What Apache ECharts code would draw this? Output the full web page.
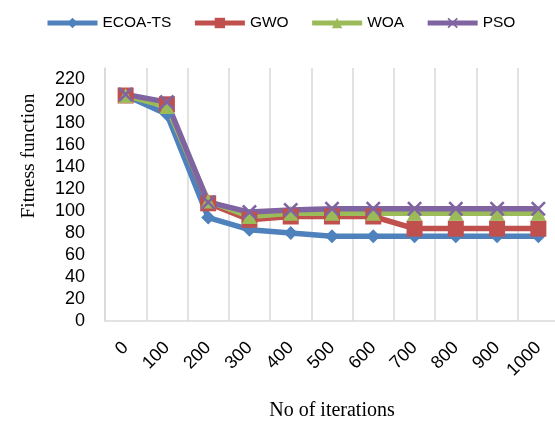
<!DOCTYPE html>
<html><head><meta charset="utf-8">
<script src="https://cdn.jsdelivr.net/npm/echarts@6/dist/echarts.min.js"></script>
<style>html,body{margin:0;padding:0;background:#fff}#c{width:555px;height:421px}</style>
</head><body><div id="c"></div>
<script>
const categories = ['0','100','200','300','400','500','600','700','800','900','1000'];
const ecoaTs = [205, 188, 94, 83, 80, 77, 77, 77, 77, 77, 77];
const gwo    = [205, 197, 107, 92, 95, 95, 95, 84, 84, 84, 84];
const woa    = [205, 195, 109, 95, 98, 98, 98, 98, 98, 98, 98];
const pso    = [206, 199, 108, 99, 101, 102, 102, 102, 102, 102, 102];
const yTicks = [0,20,40,60,80,100,120,140,160,180,200,220];

const X_PATH = 'path://M0,1.2L1.2,0L5,3.8L8.8,0L10,1.2L6.2,5L10,8.8L8.8,10L5,6.2L1.2,10L0,8.8L3.8,5Z';
const chart = echarts.init(document.getElementById('c'), null, {renderer:'canvas'});
const mk = (name, data, color, symbol, size) => ({
  name, type:'line', data, symbol, symbolSize:size, showSymbol:true,
  lineStyle:{color, width:5.5}, itemStyle:{color}, emphasis:{disabled:true}, animation:false
});
chart.setOption({
  animation:false,
  textStyle:{fontFamily:'Liberation Sans'},
  legend:{
    top:10, left:40, itemGap:21, itemWidth:50, itemHeight:13,
    lineStyle:{width:5},
    textStyle:{fontSize:15.5, color:'#000', fontFamily:'Liberation Sans'},
    data:['ECOA-TS','GWO','WOA','PSO']
  },
  grid:{left:105, right:-4, top:68, bottom:100, containLabel:false, outerBoundsMode:'none'},
  xAxis:{
    type:'category', data:categories, boundaryGap:true,
    axisLine:{lineStyle:{color:'#d9d9d9', width:1.5}},
    axisTick:{show:false},
    splitLine:{show:true, lineStyle:{color:'#d9d9d9', width:1.5}},
    axisLabel:{rotate:45, margin:24, fontSize:18, color:'#000', interval:0},
    name:'No of iterations', nameLocation:'middle', nameGap:80,
    nameTextStyle:{fontFamily:'Liberation Serif', fontSize:20, color:'#000'}
  },
  yAxis:{
    type:'value', min:0, max:230, interval:10,
    axisLine:{show:true, lineStyle:{color:'#d9d9d9', width:1.5}},
    axisTick:{show:false},
    splitLine:{show:false},
    axisLabel:{fontSize:18, color:'#000', margin:20,
      formatter: v => yTicks.includes(v) ? String(v) : ''}
  },
  graphic:[{
    type:'text', x:29, y:156, rotation:Math.PI/2,
    style:{text:'Fitness function', font:'19.5px "Liberation Serif"', fill:'#000',
      textAlign:'center', textVerticalAlign:'middle'}
  }],
  series:[
    mk('ECOA-TS', ecoaTs, '#4F81BD', 'diamond', 14),
    mk('GWO', gwo, '#C0504D', 'rect', 16),
    mk('WOA', woa, '#9BBB59', 'triangle', 15),
    mk('PSO', pso, '#8064A2', X_PATH, 15)
  ]
});
</script></body></html>
